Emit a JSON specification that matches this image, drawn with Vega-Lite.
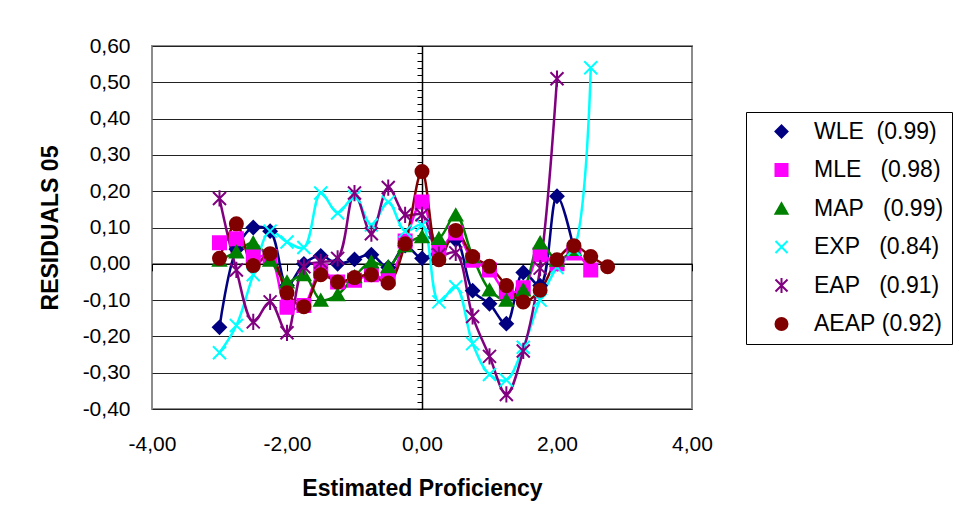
{
  "$schema": "https://vega.github.io/schema/vega-lite/v6.json",
  "width": 540,
  "height": 363,
  "autosize": {"type": "none"},
  "padding": {"left": 152, "top": 46, "right": 269, "bottom": 120},
  "background": "white",
  "config": {
    "locale": {"number": {"decimal": ",", "thousands": ".", "grouping": [3], "currency": ["", " €"], "minus": "-"}},
    "view": {"stroke": "#8c8c8c", "strokeWidth": 2},
    "font": "Liberation Sans",
    "legend": {"layout": {"right": {"anchor": "middle"}}}
  },
  "data": {"values": [
    {"s":"WLE","x":-3,"y":-0.175},{"s":"WLE","x":-2.75,"y":0.04},{"s":"WLE","x":-2.5,"y":0.1},{"s":"WLE","x":-2.25,"y":0.09},{"s":"WLE","x":-2,"y":-0.06},{"s":"WLE","x":-1.75,"y":0.0},{"s":"WLE","x":-1.5,"y":0.022},{"s":"WLE","x":-1.25,"y":0.0},{"s":"WLE","x":-1,"y":0.012},{"s":"WLE","x":-0.75,"y":0.025},{"s":"WLE","x":-0.5,"y":-0.01},{"s":"WLE","x":-0.25,"y":0.05},{"s":"WLE","x":0,"y":0.015},{"s":"WLE","x":0.25,"y":0.04},{"s":"WLE","x":0.5,"y":0.066},{"s":"WLE","x":0.75,"y":-0.074},{"s":"WLE","x":1,"y":-0.11},{"s":"WLE","x":1.25,"y":-0.165},{"s":"WLE","x":1.5,"y":-0.024},{"s":"WLE","x":1.75,"y":-0.06},{"s":"WLE","x":2,"y":0.186},{"s":"WLE","x":2.25,"y":0.04},
    {"s":"MLE","x":-3,"y":0.058},{"s":"MLE","x":-2.75,"y":0.069},{"s":"MLE","x":-2.5,"y":0.02},{"s":"MLE","x":-2.25,"y":0.02},{"s":"MLE","x":-2,"y":-0.12},{"s":"MLE","x":-1.75,"y":-0.115},{"s":"MLE","x":-1.5,"y":-0.02},{"s":"MLE","x":-1.25,"y":-0.05},{"s":"MLE","x":-1,"y":-0.045},{"s":"MLE","x":-0.75,"y":-0.03},{"s":"MLE","x":-0.5,"y":-0.04},{"s":"MLE","x":-0.25,"y":0.063},{"s":"MLE","x":0,"y":0.17},{"s":"MLE","x":0.25,"y":0.04},{"s":"MLE","x":0.5,"y":0.085},{"s":"MLE","x":0.75,"y":0.01},{"s":"MLE","x":1,"y":-0.017},{"s":"MLE","x":1.25,"y":-0.077},{"s":"MLE","x":1.5,"y":-0.066},{"s":"MLE","x":1.75,"y":0.025},{"s":"MLE","x":2,"y":0.0},{"s":"MLE","x":2.25,"y":0.03},{"s":"MLE","x":2.5,"y":-0.017},
    {"s":"MAP","x":-3,"y":0.01},{"s":"MAP","x":-2.75,"y":0.033},{"s":"MAP","x":-2.5,"y":0.058},{"s":"MAP","x":-2.25,"y":0.01},{"s":"MAP","x":-2,"y":-0.05},{"s":"MAP","x":-1.75,"y":-0.03},{"s":"MAP","x":-1.5,"y":-0.1},{"s":"MAP","x":-1.25,"y":-0.085},{"s":"MAP","x":-1,"y":-0.035},{"s":"MAP","x":-0.75,"y":0.005},{"s":"MAP","x":-0.5,"y":-0.008},{"s":"MAP","x":-0.25,"y":0.05},{"s":"MAP","x":0,"y":0.075},{"s":"MAP","x":0.25,"y":0.07},{"s":"MAP","x":0.5,"y":0.135},{"s":"MAP","x":0.75,"y":0.02},{"s":"MAP","x":1,"y":-0.072},{"s":"MAP","x":1.25,"y":-0.1},{"s":"MAP","x":1.5,"y":-0.072},{"s":"MAP","x":1.75,"y":0.058},{"s":"MAP","x":2,"y":0.01},{"s":"MAP","x":2.25,"y":0.04},
    {"s":"EXP","x":-3,"y":-0.245},{"s":"EXP","x":-2.75,"y":-0.17},{"s":"EXP","x":-2.5,"y":-0.03},{"s":"EXP","x":-2.25,"y":0.09},{"s":"EXP","x":-2,"y":0.06},{"s":"EXP","x":-1.75,"y":0.045},{"s":"EXP","x":-1.5,"y":0.195},{"s":"EXP","x":-1.25,"y":0.14},{"s":"EXP","x":-1,"y":0.185},{"s":"EXP","x":-0.75,"y":0.107},{"s":"EXP","x":-0.5,"y":0.17},{"s":"EXP","x":-0.25,"y":0.09},{"s":"EXP","x":0,"y":0.107},{"s":"EXP","x":0.25,"y":-0.105},{"s":"EXP","x":0.5,"y":-0.063},{"s":"EXP","x":0.75,"y":-0.22},{"s":"EXP","x":1,"y":-0.305},{"s":"EXP","x":1.25,"y":-0.32},{"s":"EXP","x":1.5,"y":-0.23},{"s":"EXP","x":1.75,"y":-0.1},{"s":"EXP","x":2,"y":-0.01},{"s":"EXP","x":2.25,"y":0.04},{"s":"EXP","x":2.5,"y":0.54},
    {"s":"EAP","x":-3,"y":0.18},{"s":"EAP","x":-2.75,"y":-0.017},{"s":"EAP","x":-2.5,"y":-0.16},{"s":"EAP","x":-2.25,"y":-0.105},{"s":"EAP","x":-2,"y":-0.19},{"s":"EAP","x":-1.75,"y":-0.008},{"s":"EAP","x":-1.5,"y":0.005},{"s":"EAP","x":-1.25,"y":0.015},{"s":"EAP","x":-1,"y":0.195},{"s":"EAP","x":-0.75,"y":0.083},{"s":"EAP","x":-0.5,"y":0.21},{"s":"EAP","x":-0.25,"y":0.135},{"s":"EAP","x":0,"y":0.135},{"s":"EAP","x":0.25,"y":0.025},{"s":"EAP","x":0.5,"y":0.03},{"s":"EAP","x":0.75,"y":-0.145},{"s":"EAP","x":1,"y":-0.255},{"s":"EAP","x":1.25,"y":-0.36},{"s":"EAP","x":1.5,"y":-0.24},{"s":"EAP","x":1.75,"y":-0.012},{"s":"EAP","x":2,"y":0.51},
    {"s":"AEAP","x":-3,"y":0.015},{"s":"AEAP","x":-2.75,"y":0.11},{"s":"AEAP","x":-2.5,"y":-0.005},{"s":"AEAP","x":-2.25,"y":0.028},{"s":"AEAP","x":-2,"y":-0.08},{"s":"AEAP","x":-1.75,"y":-0.118},{"s":"AEAP","x":-1.5,"y":-0.03},{"s":"AEAP","x":-1.25,"y":-0.05},{"s":"AEAP","x":-1,"y":-0.038},{"s":"AEAP","x":-0.75,"y":-0.03},{"s":"AEAP","x":-0.5,"y":-0.053},{"s":"AEAP","x":-0.25,"y":0.055},{"s":"AEAP","x":0,"y":0.254},{"s":"AEAP","x":0.25,"y":0.011},{"s":"AEAP","x":0.5,"y":0.092},{"s":"AEAP","x":0.75,"y":0.02},{"s":"AEAP","x":1,"y":-0.007},{"s":"AEAP","x":1.25,"y":-0.06},{"s":"AEAP","x":1.5,"y":-0.105},{"s":"AEAP","x":1.75,"y":-0.073},{"s":"AEAP","x":2,"y":0.011},{"s":"AEAP","x":2.25,"y":0.05},{"s":"AEAP","x":2.5,"y":0.02},{"s":"AEAP","x":2.75,"y":-0.008}
  ]},
  "layer": [
    {
      "mark": {"type": "line", "interpolate": "catmull-rom", "strokeWidth": 2.5},
      "encoding": {
        "x": {"field": "x", "type": "quantitative", "scale": {"domain": [-4, 4], "nice": false, "zero": false},
          "axis": {"orient": "bottom", "values": [-4, -2, 0, 2, 4], "format": ".2f", "ticks": false, "tickSize": 0, "domain": false, "grid": false, "labelFlush": false,
            "labelFontSize": 21, "labelColor": "black", "labelPadding": 24, "labelFont": "Liberation Sans",
            "title": "Estimated Proficiency", "titleFontSize": 23, "titleFontWeight": "bold", "titleColor": "black", "titlePadding": 23, "titleFont": "Liberation Sans"}},
        "y": {"field": "y", "type": "quantitative", "scale": {"domain": [-0.4, 0.6], "nice": false, "zero": false},
          "axis": {"orient": "left", "values": [-0.4, -0.3, -0.2, -0.1, 0, 0.1, 0.2, 0.3, 0.4, 0.5, 0.6], "format": ".2f", "ticks": false, "tickSize": 0, "domain": false, "labelFlush": false,
            "grid": true, "gridColor": "#222222", "gridWidth": 1, "gridOpacity": 1,
            "labelFontSize": 21, "labelColor": "black", "labelPadding": 22, "labelFont": "Liberation Sans",
            "title": "RESIDUALS 05", "titleFontSize": 23, "titleFontWeight": "bold", "titleColor": "black", "titlePadding": 20, "titleFont": "Liberation Sans"}},
        "color": {"field": "s", "type": "nominal",
          "scale": {"domain": ["WLE", "MLE", "MAP", "EXP", "EAP", "AEAP"], "range": ["#000080", "#ff00ff", "#008000", "#00ffff", "#800080", "#800000"]},
          "legend": {"title": null, "orient": "right", "offset": 54}}
      }
    },
    {
      "mark": {"type": "point", "filled": true, "size": 169, "strokeWidth": 2, "opacity": 1},
      "encoding": {
        "x": {"field": "x", "type": "quantitative", "scale": {"domain": [-4, 4], "nice": false, "zero": false},
          "axis": {"orient": "bottom", "offset": -145.2, "values": [-4, -2, 0, 2, 4], "labels": false, "ticks": true, "tickSize": 7, "tickColor": "black", "tickWidth": 1,
            "domain": true, "domainColor": "black", "domainWidth": 1.5, "grid": false, "title": null}},
        "y": {"field": "y", "type": "quantitative", "scale": {"domain": [-0.4, 0.6], "nice": false, "zero": false},
          "axis": {"orient": "left", "offset": -270, "tickCount": 50, "labels": false, "ticks": true, "tickSize": 5, "tickColor": "black", "tickWidth": 1,
            "domain": true, "domainColor": "black", "domainWidth": 1.5, "grid": false, "title": null}},
        "color": {"field": "s", "type": "nominal",
          "scale": {"domain": ["WLE", "MLE", "MAP", "EXP", "EAP", "AEAP"], "range": ["#000080", "#ff00ff", "#008000", "#00ffff", "#800080", "#800000"]},
          "legend": {"title": null, "orient": "right", "offset": 54, "padding": 8, "strokeColor": "black", "fillColor": "white", "cornerRadius": 0,
            "symbolSize": 144, "symbolStrokeWidth": 2, "rowPadding": 14.5, "symbolOffset": 16, "labelOffset": 21,
            "labelFont": "Liberation Sans", "labelFontSize": 23, "labelColor": "black", "labelLimit": 400,
            "labelExpr": "datum.label == 'WLE' ? 'WLE\u00a0\u00a0(0.99)\u00a0\u00a0' : datum.label == 'MLE' ? 'MLE\u00a0\u00a0\u00a0(0.98)\u00a0\u00a0' : datum.label == 'MAP' ? 'MAP\u00a0\u00a0\u00a0(0.99)\u00a0\u00a0' : datum.label == 'EXP' ? 'EXP\u00a0\u00a0\u00a0(0.84)\u00a0\u00a0' : datum.label == 'EAP' ? 'EAP\u00a0\u00a0\u00a0(0.91)\u00a0\u00a0' : 'AEAP\u00a0(0.92)\u00a0\u00a0'",
            "encode": {"symbols": {"update": {"shape": {"signal": "datum.value == 'WLE' ? 'M-4.5,0L4.5,0M-1.15,0L0,-1.15L1.15,0L0,1.15Z' : datum.value == 'MLE' ? 'M-4.5,0L4.5,0M-1.05,-1.05L1.05,-1.05L1.05,1.05L-1.05,1.05Z' : datum.value == 'MAP' ? 'M-4.5,0L4.5,0M0,-1.1L1.15,0.95L-1.15,0.95Z' : datum.value == 'EXP' ? 'M-4.5,0L4.5,0M-1,-1L1,1M-1,1L1,-1' : datum.value == 'EAP' ? 'M-4.5,0L4.5,0M-1,-1L1,1M-1,1L1,-1M0,-1.2L0,1.2' : 'M-4.5,0L4.5,0M-1.15,0A1.15,1.15 0 1,0 1.15,0A1.15,1.15 0 1,0 -1.15,0Z'"}}}}}},
        "stroke": {"field": "s", "type": "nominal",
          "scale": {"domain": ["WLE", "MLE", "MAP", "EXP", "EAP", "AEAP"], "range": ["#000080", "#ff00ff", "#008000", "#00ffff", "#800080", "#800000"]},
          "legend": {"title": null, "orient": "right", "offset": 54}},
        "shape": {"field": "s", "type": "nominal",
          "scale": {"domain": ["WLE", "MLE", "MAP", "EXP", "EAP", "AEAP"], "range": ["diamond", "square", "triangle-up", "M-1,-1L1,1M-1,1L1,-1", "M-1,-1L1,1M-1,1L1,-1M0,-1.25L0,1.25", "circle"]},
          "legend": null}
      }
    }
  ],
  "resolve": {"axis": {"x": "independent", "y": "independent"}}
}
